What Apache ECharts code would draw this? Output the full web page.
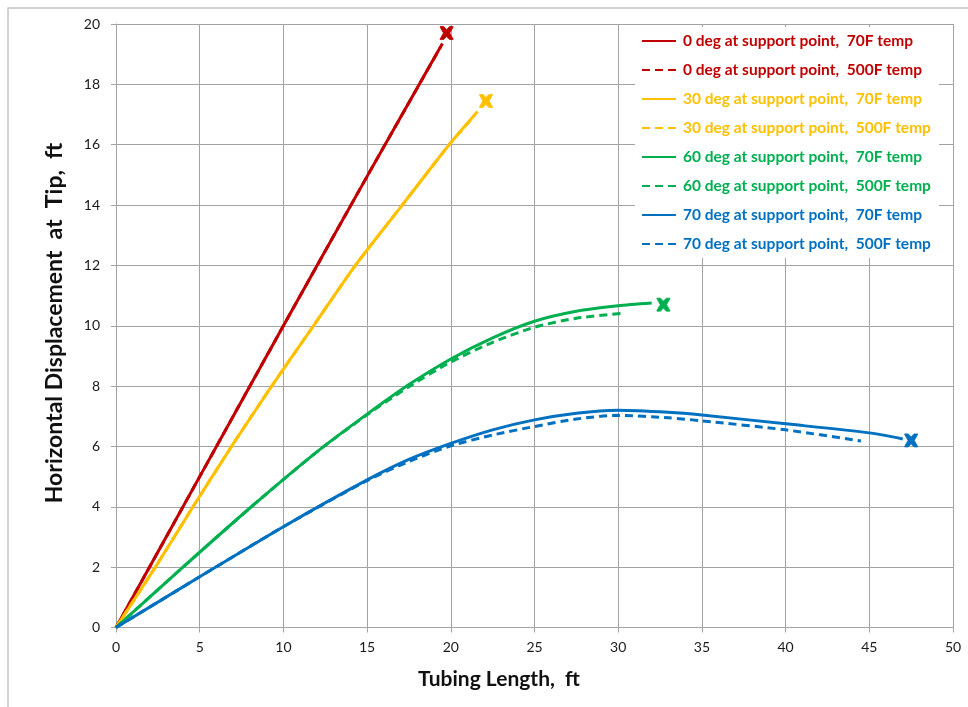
<!DOCTYPE html>
<html>
<head>
<meta charset="utf-8">
<script src="https://cdn.jsdelivr.net/npm/echarts@6/dist/echarts.min.js"></script>
<style>
  html, body { margin: 0; padding: 0; background: #ffffff; }
  #chart { width: 968px; height: 707px; }
</style>
</head>
<body>
<div id="chart"></div>
<script>
// Tubing length (ft) vs horizontal tip displacement (ft)
const xTicks = { min: 0, max: 50, step: 5 };
const yTicks = { min: 0, max: 20, step: 2 };

const seriesNames = [
  '0 deg at support point,  70F temp',
  '0 deg at support point,  500F temp',
  '30 deg at support point,  70F temp',
  '30 deg at support point,  500F temp',
  '60 deg at support point,  70F temp',
  '60 deg at support point,  500F temp',
  '70 deg at support point,  70F temp',
  '70 deg at support point,  500F temp'
];
const seriesColors = ['#C00000', '#C00000', '#FFC000', '#FFC000', '#00B050', '#00B050', '#0070C0', '#0070C0'];

const deg0_70F_x  = [0, 5, 10, 15, 19.5];
const deg0_70F_y  = [0, 5.0, 10.0, 14.95, 19.35];
const deg0_500F_x = [0, 5, 10, 15, 19.4];
const deg0_500F_y = [0, 5.0, 10.0, 14.95, 19.25];

const deg30_70F_x  = [0, 2.35, 4.6, 6.9, 9.3, 11.8, 14.3, 17.1, 19.9, 21.6];
const deg30_70F_y  = [0, 2, 4, 6, 8, 10, 12, 14, 16, 17.1];
const deg30_500F_x = [0, 2.35, 4.6, 6.9, 9.3, 11.8, 14.3, 17.1, 19.9, 21.4];
const deg30_500F_y = [0, 2, 4, 6, 8, 10, 12, 14, 16, 16.95];

const deg60_70F_x  = [0, 4, 8, 12, 15, 17.5, 20, 22.5, 25, 27.5, 30, 32];
const deg60_70F_y  = [0, 2.0, 3.96, 5.82, 7.07, 8.05, 8.9, 9.6, 10.15, 10.48, 10.66, 10.75];
const deg60_500F_x = [0, 4, 8, 12, 15, 17.5, 20, 22.5, 25, 27.5, 30.3];
const deg60_500F_y = [0, 2.0, 3.96, 5.82, 7.05, 7.98, 8.8, 9.45, 9.95, 10.25, 10.41];

const deg70_70F_x  = [0, 5, 10, 15, 17.5, 20, 22.5, 25, 27.5, 30, 33, 35, 40, 45, 47];
const deg70_70F_y  = [0, 1.68, 3.34, 4.89, 5.57, 6.1, 6.55, 6.88, 7.1, 7.2, 7.13, 7.04, 6.75, 6.45, 6.25];
const deg70_500F_x = [0, 5, 10, 15, 17.5, 20, 22.5, 25, 27.5, 30, 33, 35, 40, 44.5];
const deg70_500F_y = [0, 1.68, 3.34, 4.87, 5.5, 6.02, 6.38, 6.66, 6.91, 7.03, 6.95, 6.85, 6.55, 6.18];

// End-of-curve markers (x, y)
const endMarkX = [19.75, 22.1, 32.7, 47.5];
const endMarkY = [19.7, 17.45, 10.7, 6.2];
const endMarkColors = ['#C00000', '#FFC000', '#00B050', '#0070C0'];

const curveX = [deg0_70F_x, deg0_500F_x, deg30_70F_x, deg30_500F_x, deg60_70F_x, deg60_500F_x, deg70_70F_x, deg70_500F_x];
const curveY = [deg0_70F_y, deg0_500F_y, deg30_70F_y, deg30_500F_y, deg60_70F_y, deg60_500F_y, deg70_70F_y, deg70_500F_y];

const zip = (xs, ys) => xs.map((x, i) => [x, ys[i]]);

const crossPath = 'path://M0,0 L2.8,0 L5,2.4 L7.2,0 L10,0 L10,0.4 L7.4,5 L10,9.6 L10,10 L7.2,10 L5,7.6 L2.8,10 L0,10 L0,9.6 L2.6,5 L0,0.4 Z';

const lineSeries = seriesNames.map((name, i) => ({
  name: name,
  type: 'line',
  data: zip(curveX[i], curveY[i]),
  smooth: 0.25,
  symbol: 'none',
  lineStyle: {
    color: seriesColors[i],
    width: 3,
    type: i % 2 === 1 ? [8, 5] : 'solid',
    cap: 'butt'
  },
  itemStyle: { color: seriesColors[i] },
  z: 3
}));

const markSeries = endMarkX.map((x, i) => ({
  name: 'end' + i,
  type: 'scatter',
  data: [[x, endMarkY[i]]],
  symbol: crossPath,
  symbolSize: 13,
  itemStyle: { color: endMarkColors[i], borderColor: endMarkColors[i], borderWidth: 0.8, opacity: 1 },
  z: 4
}));

const labelFont = { fontFamily: 'Lato', fontSize: 14, color: '#1a1a1a' };
const gridColor = '#a3a3a3';

// Rich-text styles for the coloured, bold legend entries
const legendRich = {};
seriesColors.forEach((c, i) => {
  legendRich['c' + i] = { color: c, fontFamily: 'Lato', fontWeight: 'bold', fontSize: 15.5, padding: [0, 0, 0, 2] };
});

const chart = echarts.init(document.getElementById('chart'), null, { renderer: 'canvas' });
chart.setOption({
  animation: false,
  backgroundColor: '#ffffff',
  grid: { left: 116, right: 15, top: 24, bottom: 79.5, containLabel: false },
  xAxis: {
    type: 'value',
    min: xTicks.min, max: xTicks.max, interval: xTicks.step,
    axisLine: { show: true, lineStyle: { color: gridColor, width: 1 } },
    axisTick: { show: true, inside: false, length: 5, lineStyle: { color: gridColor } },
    axisLabel: Object.assign({ margin: 13 }, labelFont),
    splitLine: { show: true, lineStyle: { color: gridColor, width: 1 } }
  },
  yAxis: {
    type: 'value',
    min: yTicks.min, max: yTicks.max, interval: yTicks.step,
    axisLine: { show: true, lineStyle: { color: gridColor, width: 1 } },
    axisTick: { show: true, inside: false, length: 5, lineStyle: { color: gridColor } },
    axisLabel: Object.assign({ margin: 16 }, labelFont),
    splitLine: { show: true, lineStyle: { color: gridColor, width: 1 } }
  },
  legend: {
    orient: 'vertical',
    left: 635,
    top: 27,
    padding: [6, 8, 6, 6],
    backgroundColor: '#ffffff',
    itemWidth: 34,
    itemHeight: 14,
    itemGap: 13,
    z: 10,
    itemStyle: { opacity: 0 },
    textStyle: { fontFamily: 'Lato', fontWeight: 'bold', fontSize: 15.5, rich: legendRich },
    formatter: name => '{c' + seriesNames.indexOf(name) + '|' + name + '}',
    data: seriesNames
  },
  graphic: [
    {
      type: 'rect',
      z: -10,
      shape: { x: 8, y: 8, width: 1000, height: 800 },
      style: { fill: 'none', stroke: '#c4c4c4', lineWidth: 1.5 }
    },
    {
      type: 'text',
      x: 55, y: 323,
      rotation: Math.PI / 2,
      style: {
        text: 'Horizontal Displacement  at  Tip,  ft',
        font: 'bold 23px Lato',
        fill: '#111111',
        textAlign: 'center',
        textVerticalAlign: 'middle'
      }
    },
    {
      type: 'text',
      x: 499, y: 679,
      style: {
        text: 'Tubing Length,  ft',
        font: 'bold 21px Lato',
        fill: '#111111',
        textAlign: 'center',
        textVerticalAlign: 'middle'
      }
    }
  ],
  series: lineSeries.concat(markSeries)
});
</script>
</body>
</html>
